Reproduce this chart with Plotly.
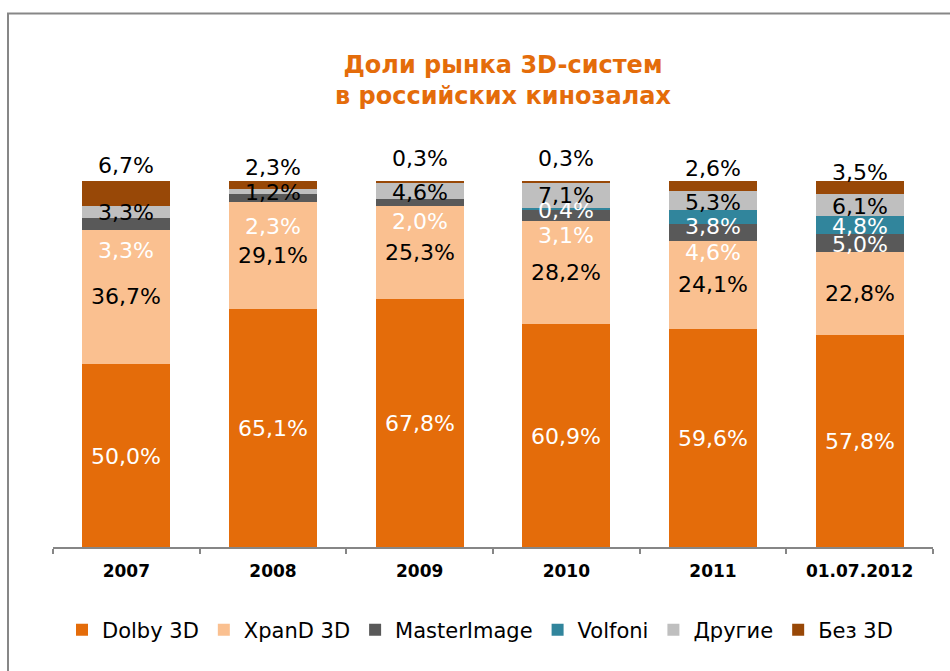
import plotly.graph_objects as go

# ---- data ----
categories = ["2007", "2008", "2009", "2010", "2011", "01.07.2012"]
series_names = ["Dolby 3D", "XpanD 3D", "MasterImage", "Volfoni", "Другие", "Без 3D"]
dolby = [50.0, 65.1, 67.8, 60.9, 59.6, 57.8]
xpand = [36.7, 29.1, 25.3, 28.2, 24.1, 22.8]
masterimage = [3.3, 2.3, 2.0, 3.1, 4.6, 5.0]
volfoni = [0.0, 0.0, 0.0, 0.4, 3.8, 4.8]
drugie = [3.3, 1.2, 4.6, 7.1, 5.3, 6.1]
bez3d = [6.7, 2.3, 0.3, 0.3, 2.6, 3.5]
title_text = "Доли рынка 3D-систем<br>в российских кинозалах"

# ---- styles ----
colors = ["#E46C0A", "#FAC090", "#595959", "#31859C", "#BFBFBF", "#984807"]
label_colors = ["white", "black", "white", "white", "black", "black"]
# pixel nudges of the value labels (positive = up), per series per category
label_nudge = [
    [-1, -1, -1, -1, -1, 0],
    [0, 0, 0, 0, 0, 0],
    [-27, -28, -19, -20, -20, -2],
    [0, 0, 0, -2, -10, -2],
    [-1, -1, -2, 0, -2, -2],
    [28, 18, 23, 23, 17, 15],
]
FONT = "DejaVu Sans, Verdana, sans-serif"

all_series = [dolby, xpand, masterimage, volfoni, drugie, bez3d]

fig = go.Figure()
for name, vals, col in zip(series_names, all_series, colors):
    fig.add_trace(go.Bar(
        x=categories, y=vals, name=name,
        marker=dict(color=col, line=dict(width=0)),
        hoverinfo="name+y",
    ))

# value labels (x given as category index on the category axis)
annotations = []
base = [0.0] * len(categories)
for si, vals in enumerate(all_series):
    for ci, v in enumerate(vals):
        if v > 0:
            annotations.append(dict(
                x=ci, y=base[ci] + v / 2, xref="x", yref="y",
                text=f"{v:.1f}".replace(".", ",") + "%",
                showarrow=False,
                yshift=label_nudge[si][ci],
                font=dict(family=FONT, size=22, color=label_colors[si]),
            ))
        base[ci] += v

L, R, T, B = 53, 17, 140, 124
W, H = 950, 671
plot_h = H - T - B
plot_w = W - L - R
px_per_unit = 3.66
ymax = plot_h / px_per_unit

def px_to_paper_x(px):
    return (px - L) / plot_w

def px_to_paper_y(py):
    return (H - B - py) / plot_h

fig.update_layout(
    width=W, height=H,
    margin=dict(l=L, r=R, t=T, b=B, pad=0),
    paper_bgcolor="white", plot_bgcolor="white",
    barmode="stack", bargap=0.4,
    title=dict(
        text=title_text, x=503 / W, xref="container", xanchor="center",
        y=1 - 73 / H, yref="container", yanchor="middle",
        font=dict(family=FONT, size=24, color="#E46C0A", weight="bold"),
    ),
    xaxis=dict(
        type="category", range=[-0.5, 5.5],
        showline=True, linecolor="#868686", linewidth=1.5,
        ticks="outside", tickson="boundaries", ticklen=5, tickwidth=1.5, tickcolor="#868686",
        ticklabelstandoff=8,
        tickfont=dict(family=FONT, size=17, color="black", weight="bold"),
        showgrid=False, zeroline=False, fixedrange=True,
    ),
    yaxis=dict(range=[0, ymax], visible=False, showgrid=False, zeroline=False, fixedrange=True),
    legend=dict(
        orientation="h", x=px_to_paper_x(62), xanchor="left",
        y=px_to_paper_y(630), yanchor="middle",
        font=dict(family=FONT, size=21, color="black"),
        traceorder="normal", bgcolor="rgba(0,0,0,0)",
    ),
    annotations=annotations,
    shapes=[dict(
        type="rect", xref="paper", yref="paper",
        x0=px_to_paper_x(8), x1=px_to_paper_x(970),
        y0=px_to_paper_y(700), y1=px_to_paper_y(13.5),
        line=dict(color="#878787", width=2), fillcolor="rgba(0,0,0,0)", layer="below",
    )],
    showlegend=True,
)

fig.write_html(
    "out.html",
    config={"displayModeBar": False},
    post_script="document.body.style.margin='0';document.body.style.padding='0';",
)
